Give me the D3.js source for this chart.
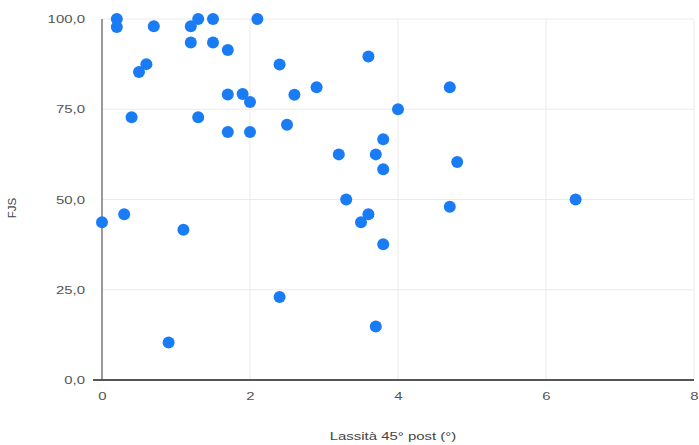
<!DOCTYPE html>
<html>
<head>
<meta charset="utf-8">
<script src="https://cdn.jsdelivr.net/npm/d3@7"></script>
<style>
  body { margin: 0; background: #fff; }
  svg { font-family: "Liberation Sans", Arial, sans-serif; }
</style>
</head>
<body>
<svg></svg>
<script>
// data
let lassita = [0.2, 0.2, 0.7, 1.2, 1.3, 1.5, 2.1, 1.2, 1.5, 1.7, 0.6, 0.5, 2.4, 2.9, 1.7, 1.9, 2.0, 2.6,
  0.4, 1.3, 2.5, 1.7, 2.0, 3.2, 3.6, 4.7, 4.0, 3.8, 3.7, 3.8, 4.8,
  0.0, 0.3, 1.1, 2.4, 0.9, 3.3, 3.6, 3.5, 3.8, 4.7, 6.4, 3.7];
let fjs = [100, 97.8, 98, 98, 100, 100, 100, 93.5, 93.5, 91.4, 87.5, 85.3, 87.4, 81.1, 79.1, 79.2, 77.0, 79,
  72.8, 72.8, 70.7, 68.7, 68.7, 62.5, 89.6, 81.1, 75.0, 66.7, 62.5, 58.4, 60.4,
  43.7, 45.9, 41.6, 23, 10.4, 50, 45.9, 43.7, 37.6, 48, 50, 14.8];
let xTicks = [0, 2, 4, 6, 8];
let yTicks = [0, 25, 50, 75, 100];

let width = 699;
let height = 445;
let xLeft = 102, xRight = 694, yTop = 19, yBottom = 380;
let stretch = 1.3; // the picture's text is wider than it is tall

const svg = d3.select("svg")
  .attr("width", width)
  .attr("height", height);

//scales
const xScale = d3.scaleLinear().domain([0, 8]).range([xLeft, xRight]);
const yScale = d3.scaleLinear().domain([0, 100]).range([yBottom, yTop]);

//grid
svg.append("g")
  .selectAll("line")
  .data(xTicks.slice(1))
  .enter()
  .append("line")
  .attr("x1", d => xScale(d))
  .attr("x2", d => xScale(d))
  .attr("y1", yTop)
  .attr("y2", yBottom)
  .attr("stroke", "#ebebeb")
  .attr("stroke-width", 1);
svg.append("g")
  .selectAll("line")
  .data(yTicks.slice(1))
  .enter()
  .append("line")
  .attr("x1", xLeft)
  .attr("x2", xRight)
  .attr("y1", d => yScale(d))
  .attr("y2", d => yScale(d))
  .attr("stroke", "#ebebeb")
  .attr("stroke-width", 1);

//axis
const xAxis = d3.axisBottom(xScale)
  .tickValues(xTicks)
  .tickSize(0)
  .tickPadding(12)
  .tickFormat(d3.format("d"));
const yAxis = d3.axisLeft(yScale)
  .tickValues(yTicks)
  .tickSize(0)
  .tickPadding(17)
  .tickFormat(d => d3.format(".1f")(d).replace(".", ","));

const gx = svg.append("g")
  .attr("transform", `translate(0, ${yBottom})`)
  .call(xAxis);
const gy = svg.append("g")
  .attr("transform", `translate(${xLeft}, 0)`)
  .call(yAxis);
[gx, gy].forEach(g => {
  g.select(".domain").remove();
  g.selectAll("text")
    .attr("fill", "#555")
    .style("font-size", "11.5px")
    .attr("transform", function() {
      let x = +d3.select(this).attr("x") || 0;
      return `translate(${x},0) scale(${stretch},1) translate(${-x},0)`;
    });
});

svg.append("line")
  .attr("x1", xLeft).attr("x2", xLeft)
  .attr("y1", yTop).attr("y2", yBottom)
  .attr("stroke", "#9a9a9a")
  .attr("stroke-width", 2);
svg.append("line")
  .attr("x1", xLeft - 9).attr("x2", xRight)
  .attr("y1", yBottom).attr("y2", yBottom)
  .attr("stroke", "#555")
  .attr("stroke-width", 2);

//titles
svg.append("text")
  .attr("transform", `translate(393, 440) scale(${stretch},1)`)
  .attr("text-anchor", "middle")
  .attr("fill", "#444")
  .style("font-size", "11.5px")
  .text("Lassità 45° post (°)");
svg.append("text")
  .attr("transform", "translate(16, 208) rotate(-90)")
  .attr("text-anchor", "middle")
  .attr("fill", "#444")
  .style("font-size", "11.5px")
  .text("FJS");

//points
svg.append("g")
  .selectAll("circle")
  .data(lassita.map((x, i) => [x, fjs[i]]))
  .enter()
  .append("circle")
  .attr("r", 6)
  .attr("cx", d => xScale(d[0]))
  .attr("cy", d => yScale(d[1]))
  .attr("fill", "#1a7cf5");
</script>
</body>
</html>
